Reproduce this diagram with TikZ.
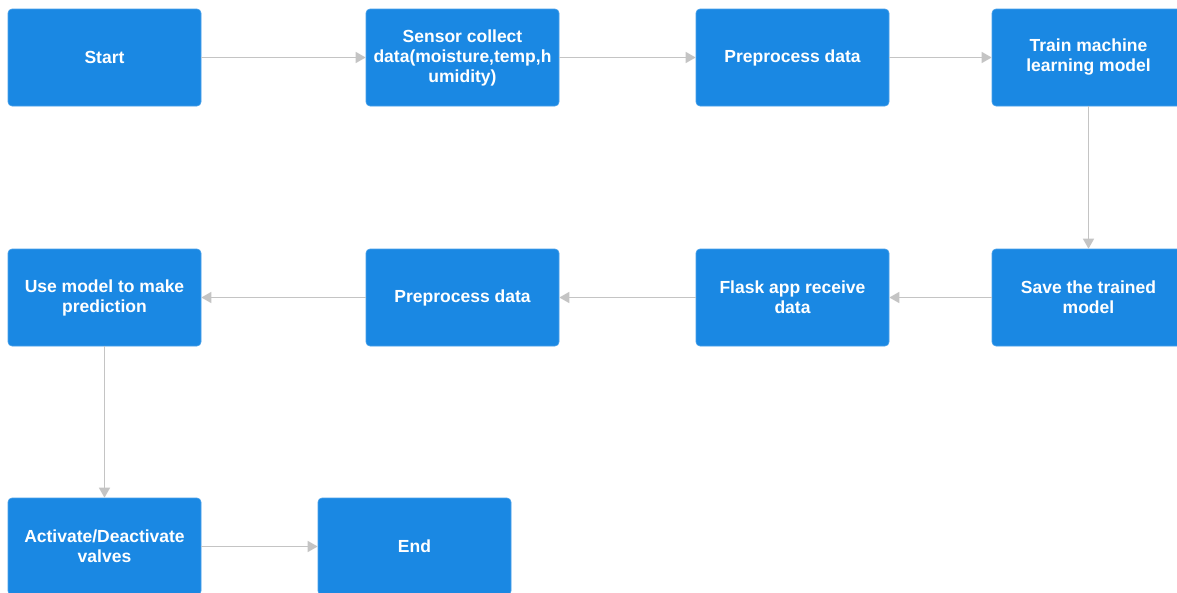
\documentclass[tikz,border=0pt]{standalone}
\usepackage{fontspec}
\setmainfont{Liberation Sans}
\usetikzlibrary{arrows.meta}
\definecolor{boxblue}{HTML}{1A88E3}
\definecolor{linegray}{HTML}{C4C4C4}
\begin{document}
\begin{tikzpicture}[x=1pt,y=-1pt,
  stepbox/.style={rectangle, rounded corners=4pt, fill=boxblue, draw=boxblue!80!white, line width=0.6pt,
    minimum width=193pt, minimum height=97pt, inner sep=0pt, align=center, text=white,
    font=\fontsize{17.5pt}{20pt}\selectfont\bfseries},
  conn/.style={draw=linegray, line width=1.4pt, -{Triangle[length=10pt,width=11pt]}}]
\useasboundingbox (0,0) rectangle (1177,592);
\clip (0,0) rectangle (1177,592);
\node[stepbox] (start) at (104.5,57.5) {Start};
\node[stepbox] (sensor) at (462.5,57.5) {Sensor collect\\data(moisture,temp,h\\umidity)};
\node[stepbox] (prep1) at (792.5,57.5) {Preprocess data};
\node[stepbox] (train) at (1088.5,57.5) {Train machine\\learning model};
\node[stepbox] (save) at (1088.5,297.5) {Save the trained\\model};
\node[stepbox] (flask) at (792.5,297.5) {Flask app receive\\data};
\node[stepbox] (prep2) at (462.5,297.5) {Preprocess data};
\node[stepbox] (use) at (104.5,297.5) {Use model to make\\prediction};
\node[stepbox] (act) at (104.5,546.5) {Activate/Deactivate\\valves};
\node[stepbox] (end) at (414.5,546.5) {End};
\draw[conn] (start) -- (sensor);
\draw[conn] (sensor) -- (prep1);
\draw[conn] (prep1) -- (train);
\draw[conn] (train) -- (save);
\draw[conn] (save) -- (flask);
\draw[conn] (flask) -- (prep2);
\draw[conn] (prep2) -- (use);
\draw[conn] (use) -- (act);
\draw[conn] (act) -- (end);
\end{tikzpicture}
\end{document}
